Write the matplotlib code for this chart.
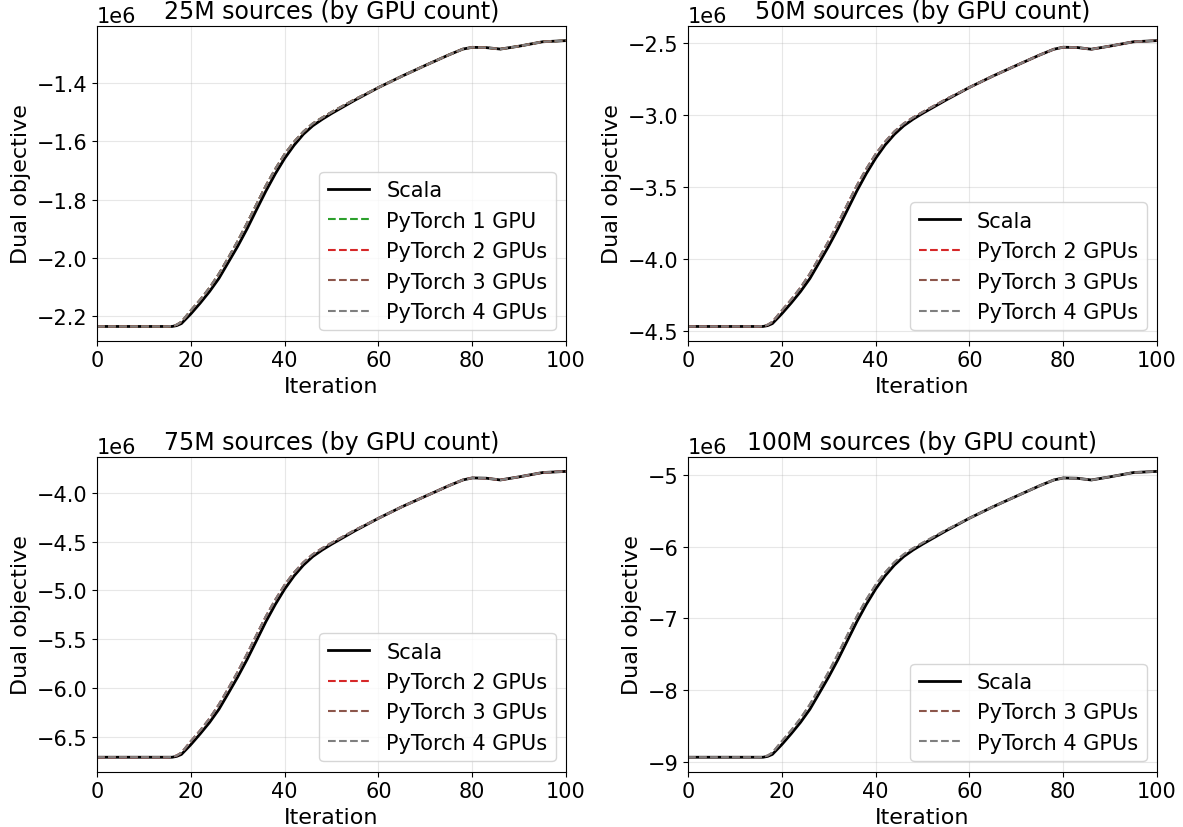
import numpy as np
import matplotlib
matplotlib.use("Agg")
import matplotlib.pyplot as plt

iters = [0, 5, 10, 15, 16, 17, 18, 20, 22, 24, 26, 28, 30, 32, 34, 36, 38, 40, 42,
         44, 46, 48, 50, 55, 60, 65, 70, 75, 78, 80, 83, 86, 90, 95, 100]

# dual objective, in units of 1e6
scala_25m = [-2.235, -2.235, -2.235, -2.235, -2.235, -2.232, -2.225, -2.192, -2.155, -2.115,
             -2.070, -2.015, -1.960, -1.900, -1.835, -1.771, -1.712, -1.659, -1.614, -1.576,
             -1.547, -1.525, -1.505, -1.459, -1.416, -1.377, -1.340, -1.304, -1.284, -1.278,
             -1.279, -1.284, -1.274, -1.259, -1.255]
torch_25m = [-2.235, -2.235, -2.235, -2.235, -2.234, -2.229, -2.219, -2.180, -2.143, -2.102,
             -2.054, -1.999, -1.942, -1.880, -1.816, -1.752, -1.695, -1.644, -1.602, -1.567,
             -1.539, -1.519, -1.500, -1.456, -1.416, -1.377, -1.340, -1.304, -1.284, -1.278,
             -1.279, -1.284, -1.274, -1.259, -1.255]

scala_50m = [-4.470, -4.470, -4.470, -4.470, -4.470, -4.464, -4.450, -4.382, -4.307, -4.227,
             -4.136, -4.024, -3.911, -3.789, -3.658, -3.527, -3.407, -3.300, -3.208, -3.133,
             -3.073, -3.027, -2.987, -2.894, -2.806, -2.727, -2.653, -2.580, -2.540, -2.526,
             -2.528, -2.540, -2.518, -2.488, -2.480]
torch_50m = [-4.470, -4.470, -4.470, -4.470, -4.468, -4.458, -4.438, -4.359, -4.283, -4.199,
             -4.102, -3.990, -3.875, -3.750, -3.618, -3.489, -3.374, -3.270, -3.185, -3.113,
             -3.057, -3.015, -2.978, -2.888, -2.806, -2.727, -2.653, -2.580, -2.540, -2.526,
             -2.528, -2.540, -2.518, -2.488, -2.480]

scala_75m = [-6.710, -6.710, -6.710, -6.710, -6.710, -6.701, -6.681, -6.581, -6.470, -6.353,
             -6.218, -6.054, -5.887, -5.708, -5.515, -5.321, -5.145, -4.987, -4.852, -4.741,
             -4.653, -4.586, -4.527, -4.389, -4.261, -4.143, -4.035, -3.927, -3.868, -3.847,
             -3.850, -3.868, -3.836, -3.792, -3.780]
torch_75m = [-6.710, -6.710, -6.710, -6.710, -6.707, -6.692, -6.663, -6.546, -6.435, -6.312,
             -6.168, -6.004, -5.834, -5.649, -5.456, -5.266, -5.096, -4.943, -4.817, -4.712,
             -4.630, -4.568, -4.513, -4.381, -4.261, -4.143, -4.035, -3.927, -3.868, -3.847,
             -3.850, -3.868, -3.836, -3.792, -3.780]

scala_100m = [-8.940, -8.940, -8.940, -8.940, -8.940, -8.928, -8.900, -8.764, -8.613, -8.453,
              -8.270, -8.046, -7.819, -7.575, -7.312, -7.049, -6.809, -6.594, -6.410, -6.259,
              -6.139, -6.047, -5.967, -5.780, -5.604, -5.445, -5.297, -5.150, -5.070, -5.042,
              -5.046, -5.070, -5.026, -4.966, -4.950]
torch_100m = [-8.940, -8.940, -8.940, -8.940, -8.936, -8.916, -8.876, -8.717, -8.565, -8.397,
              -8.202, -7.978, -7.747, -7.496, -7.232, -6.973, -6.742, -6.534, -6.363, -6.219,
              -6.107, -6.023, -5.948, -5.768, -5.604, -5.445, -5.297, -5.150, -5.070, -5.042,
              -5.046, -5.070, -5.026, -4.966, -4.950]

panel_titles = ["25M sources (by GPU count)", "50M sources (by GPU count)",
                "75M sources (by GPU count)", "100M sources (by GPU count)"]
gpu_counts = [[1, 2, 3, 4], [2, 3, 4], [2, 3, 4], [3, 4]]
gpu_colors = {1: "tab:green", 2: "tab:red", 3: "tab:brown", 4: "tab:gray"}

scala_runs = [scala_25m, scala_50m, scala_75m, scala_100m]
torch_runs = [torch_25m, torch_50m, torch_75m, torch_100m]

fig, axes = plt.subplots(2, 2, figsize=(11.83, 8.28), dpi=100)
fig.subplots_adjust(left=0.082, right=0.978, bottom=0.067, top=0.967,
                    wspace=0.26, hspace=0.37)

x = np.array(iters)
for ax, title, gpus, sc, pt in zip(axes.flat, panel_titles, gpu_counts,
                                   scala_runs, torch_runs):
    ax.plot(x, np.array(sc) * 1e6, color="black", lw=2, label="Scala")
    for g in gpus:
        lbl = "PyTorch %d GPU" % g if g == 1 else "PyTorch %d GPUs" % g
        ax.plot(x, np.array(pt) * 1e6, color=gpu_colors[g], lw=1.5,
                linestyle="--", label=lbl)
    ax.set_xlim(0, 100)
    ax.set_title(title, fontsize=17)
    ax.set_xlabel("Iteration", fontsize=16)
    ax.set_ylabel("Dual objective", fontsize=16)
    ax.tick_params(labelsize=15)
    ax.yaxis.get_offset_text().set_fontsize(15)
    ax.grid(True, alpha=0.3)
    ax.legend(loc="lower right", fontsize=15)

fig.savefig("out.png", dpi=100)
